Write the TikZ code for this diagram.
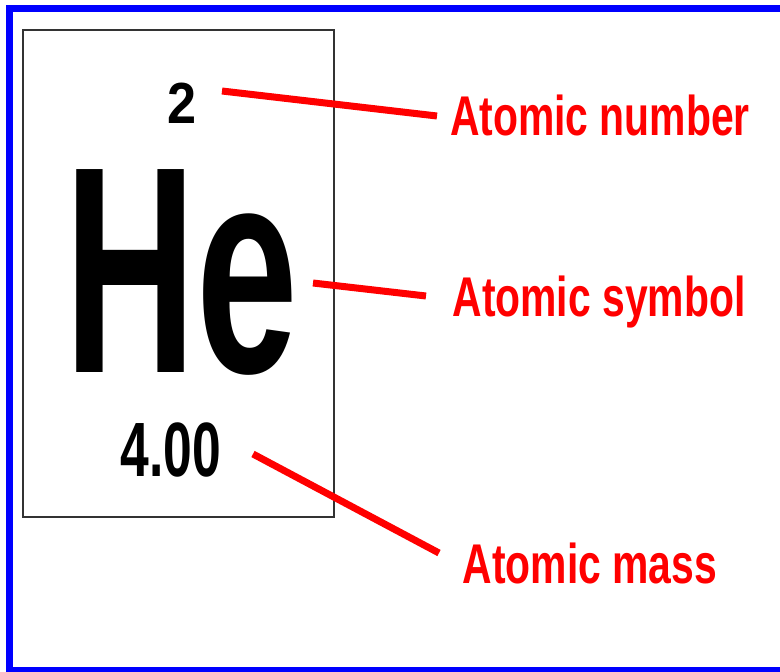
\documentclass[tikz,border=0pt]{standalone}
\usepackage{fontspec}
\setmainfont{Liberation Sans}
\usetikzlibrary{positioning}
\newcommand{\squeeze}[2]{\scalebox{#1}[1]{#2}}

\begin{document}
\begin{tikzpicture}[
  x=1pt, y=-1pt,
  elem/.style={inner sep=0pt, anchor=base},
  lbl/.style={elem, text=red, font=\bfseries\fontsize{56}{56}\selectfont},
  pointer/.style={draw=red, line width=7pt}
]
\useasboundingbox (0,0) rectangle (780,672);
\draw[blue, line width=7pt] (780,8) -- (9,8) -- (9,670) -- (780,670);
\node[draw=black!80, line width=2pt, minimum width=311pt, minimum height=487pt,
      inner sep=0pt, anchor=north west] (cell) at (22,29) {};
\node[elem, font=\bfseries\fontsize{58}{58}\selectfont] (num) at (182,123) {\squeeze{0.9}{2}};
\node[elem, text depth=0pt, font=\bfseries\fontsize{295}{295}\selectfont] (sym) at (181,372) {\squeeze{0.62}{He}};
\node[elem, text height=56pt, text depth=0pt, font=\bfseries\fontsize{77}{77}\selectfont] (mass) at (171,476) {\squeeze{0.67}{4.00}};
\node[lbl] (numlbl) at (600,135) {\squeeze{0.73}{Atomic number}};
\node[lbl] (symlbl) at (599,316) {\squeeze{0.73}{Atomic symbol}};
\node[lbl] (masslbl) at (590,583) {\squeeze{0.73}{Atomic mass}};
\coordinate (numfrom) at (222,91);
\coordinate (numto) at (437,116);
\coordinate (symfrom) at (313,283);
\coordinate (symto) at (426,296);
\coordinate (massfrom) at (253,454);
\coordinate (massto) at (439,553);
\draw[pointer] (numfrom) -- (numto);
\draw[pointer] (symfrom) -- (symto);
\draw[pointer] (massfrom) -- (massto);
\end{tikzpicture}
\end{document}
